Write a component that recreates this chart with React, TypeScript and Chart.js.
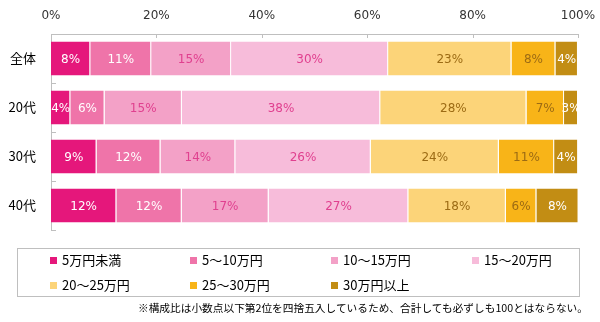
import React, { useEffect, useRef } from "react";
import { Chart, registerables } from "chart.js";

Chart.register(...registerables);

const categories = ["全体", "20代", "30代", "40代"];
const seriesNames = ["5万円未満", "5～10万円", "10～15万円", "15～20万円", "20～25万円", "25～30万円", "30万円以上"];
// measured shares (bar widths, %)
const under5 = [7.45, 3.66, 8.64, 12.4];
const r5to10 = [11.56, 6.5, 12.13, 12.4];
const r10to15 = [15.16, 14.67, 14.2, 16.5];
const r15to20 = [29.8, 37.64, 25.7, 26.5];
const r20to25 = [23.4, 27.75, 24.3, 18.5];
const r25to30 = [8.34, 7.13, 10.5, 5.8];
const over30 = [4.28, 2.65, 4.55, 8.0];
// printed labels (%)
const lblUnder5 = [8, 4, 9, 12];
const lbl5to10 = [11, 6, 12, 12];
const lbl10to15 = [15, 15, 14, 17];
const lbl15to20 = [30, 38, 26, 27];
const lbl20to25 = [23, 28, 24, 18];
const lbl25to30 = [8, 7, 11, 6];
const lblOver30 = [4, 3, 4, 8];
const xTicks = [0, 20, 40, 60, 80, 100];

const colors = ["#E5177B", "#EF74A9", "#F3A1C7", "#F7BCDA", "#FCD479", "#F8B418", "#C28D14"];
const labelColors = ["#FFFFFF", "#FFFFFF", "#E0408F", "#E0408F", "#9C6B14", "#9C6B14", "#FFFFFF"];
const footnote = "※構成比は小数点以下第2位を四捨五入しているため、合計しても必ずしも100とはならない。";

const seriesValues = [under5, r5to10, r10to15, r15to20, r20to25, r25to30, over30];
const seriesLabels = [lblUnder5, lbl5to10, lbl10to15, lbl15to20, lbl20to25, lbl25to30, lblOver30];

const innerTicks = {
  id: "innerTicks",
  afterDraw(chart: any) {
    const ctx = chart.ctx;
    const xs = chart.scales.x;
    const ys = chart.scales.y;
    ctx.save();
    ctx.strokeStyle = "#BFBFBF";
    ctx.lineWidth = 1;
    ctx.beginPath();
    xTicks.forEach((v) => {
      const px = Math.round(xs.getPixelForValue(v)) + 0.5;
      ctx.moveTo(px, xs.bottom);
      ctx.lineTo(px, xs.bottom + 4);
    });
    for (let i = 0; i < categories.length; i++) {
      const py = i < categories.length - 1
        ? (ys.getPixelForValue(i) + ys.getPixelForValue(i + 1)) / 2
        : ys.bottom;
      const y = Math.round(py) + 0.5;
      ctx.moveTo(ys.right, y);
      ctx.lineTo(ys.right + 5, y);
    }
    ctx.stroke();
    ctx.restore();
  },
};

const barLabels = {
  id: "barLabels",
  afterDatasetsDraw(chart: any) {
    const ctx = chart.ctx;
    ctx.save();
    ctx.font = "12px 'DejaVu Sans'";
    ctx.textAlign = "center";
    ctx.textBaseline = "middle";
    chart.data.datasets.forEach((ds: any, di: number) => {
      const meta = chart.getDatasetMeta(di);
      meta.data.forEach((el: any, i: number) => {
        const cx = (el.x + el.base) / 2;
        ctx.fillStyle = labelColors[di];
        ctx.fillText(seriesLabels[di][i] + "%", cx, el.y + 1);
      });
    });
    ctx.restore();
  },
};

export default function App() {
  const ref = useRef<HTMLCanvasElement | null>(null);

  useEffect(() => {
    if (!ref.current) return;
    const chart = new Chart(ref.current, {
      type: "bar",
      data: {
        labels: categories,
        datasets: seriesValues.map((vals, i) => ({
          label: seriesNames[i],
          data: vals,
          backgroundColor: colors[i],
          borderColor: "#FFFFFF",
          borderWidth: { top: 0, bottom: 0, left: 0, right: 1 },
          borderSkipped: false,
          barPercentage: 0.69,
          categoryPercentage: 1,
        })),
      },
      options: {
        indexAxis: "y",
        animation: false,
        responsive: false,
        layout: { padding: { left: 0, right: 22, top: 0, bottom: 92 } },
        plugins: { legend: { display: false }, tooltip: { enabled: false } },
        scales: {
          x: {
            position: "top",
            stacked: true,
            min: 0,
            max: 100,
            grid: { display: false, drawTicks: false },
            border: { display: true, color: "#BFBFBF" },
            ticks: {
              stepSize: 20,
              callback: (v: any) => v + "%",
              font: { family: "'DejaVu Sans'", size: 12 },
              color: "#333333",
              padding: 11,
              maxRotation: 0,
            },
            afterFit: (s: any) => {
              s.height = 34;
              s.paddingLeft = 0;
              s.paddingRight = 0;
            },
          },
          y: {
            stacked: true,
            grid: { display: false, drawTicks: false },
            border: { display: true, color: "#BFBFBF" },
            ticks: {
              font: { family: "'Noto Sans CJK JP'", size: 13 },
              color: "#000000",
              padding: 15,
            },
            afterFit: (s: any) => { s.width = 51; },
          },
        },
      } as any,
      plugins: [innerTicks, barLabels],
    });
    return () => chart.destroy();
  }, []);

  const colLeft = [32, 172, 313, 454];
  const rowTop = [3, 28];

  return (
    <div style={{ position: "absolute", left: 0, top: 0, width: 600, height: 322, background: "#fff", overflow: "hidden" }}>
      <canvas ref={ref} width={600} height={322} style={{ position: "absolute", left: 0, top: 0 }} />
      <div
        style={{
          position: "absolute",
          left: 17,
          top: 248,
          width: 563,
          height: 49,
          border: "1px solid #BFBFBF",
          boxSizing: "border-box",
        }}
      >
        {seriesNames.map((name, i) => (
          <div
            key={name}
            style={{
              position: "absolute",
              left: colLeft[i % 4],
              top: rowTop[Math.floor(i / 4)],
              height: 16,
              lineHeight: "16px",
              whiteSpace: "nowrap",
              fontFamily: "'Noto Sans CJK JP'",
              fontSize: 13,
              color: "#000",
              display: "flex",
              alignItems: "center",
            }}
          >
            <span style={{ display: "inline-block", width: 7, height: 7, background: colors[i], marginRight: 5 }} />
            <span>{name}</span>
          </div>
        ))}
      </div>
      <div
        style={{
          position: "absolute",
          right: 12,
          top: 300,
          fontFamily: "'Noto Sans CJK JP'",
          fontSize: 10.7,
          lineHeight: "15px",
          color: "#000",
          whiteSpace: "nowrap",
        }}
      >
        {footnote}
      </div>
    </div>
  );
}
